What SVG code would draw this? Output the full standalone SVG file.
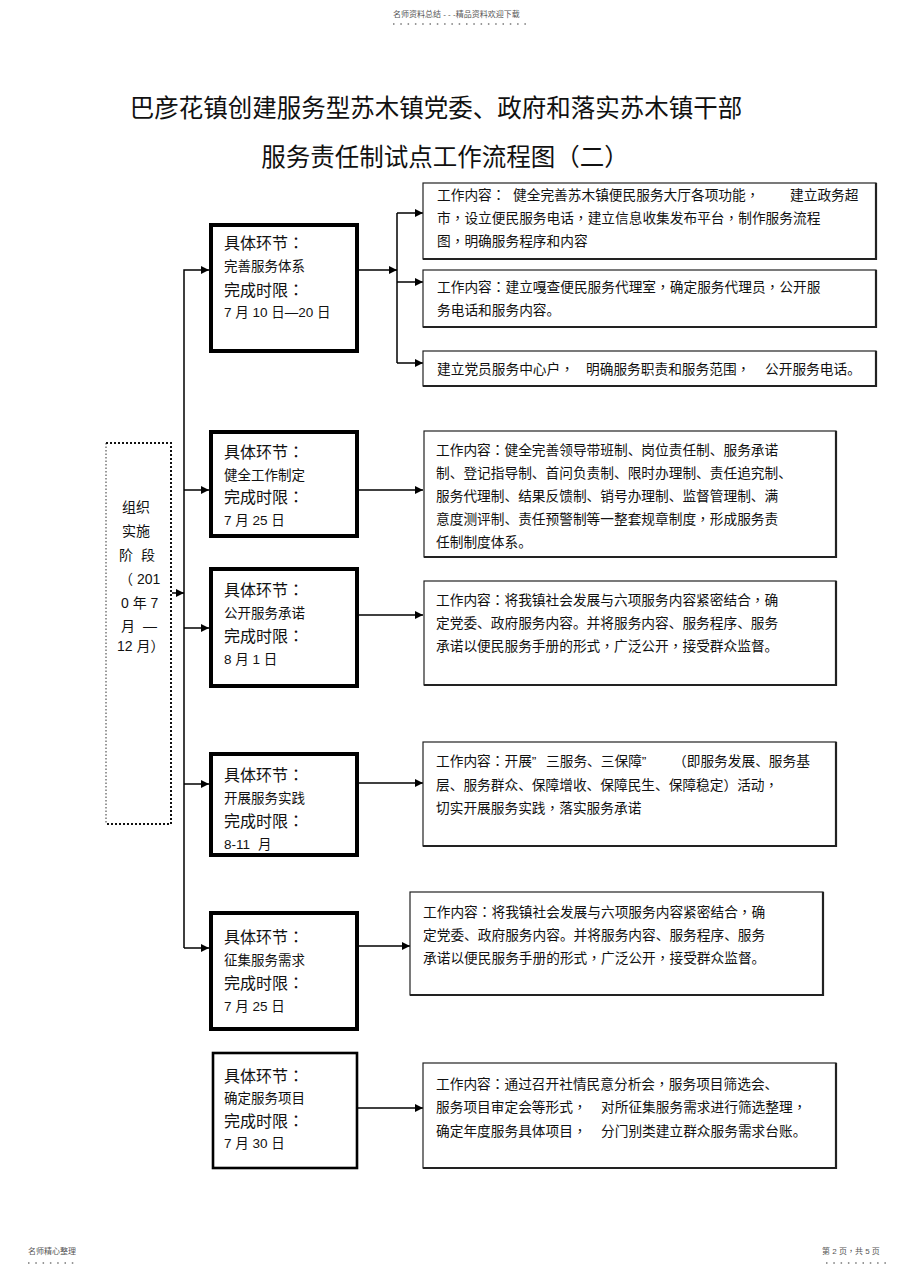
<svg xmlns="http://www.w3.org/2000/svg" width="920" height="1274" viewBox="0 0 920 1274">
<style>
text{font-family:"Liberation Sans","Noto Sans CJK SC",sans-serif;fill:#111}
.c{font-family:"Noto Sans CJK TC",sans-serif}
.title{font-size:24.5px}
.hd{font-size:8px;fill:#555}
.dots{stroke:#777;stroke-width:1.3;stroke-dasharray:1.5 5.8;fill:none}
.node{fill:#fff;stroke:#000;stroke-width:4}
.node6{fill:#fff;stroke:#000;stroke-width:2.6}
.big{font-size:16px}
.sm{font-size:13.5px}
.box{fill:#fff;stroke:#222;stroke-width:1.2}
.shd{fill:none;stroke:#222;stroke-width:2.2}
.ct{font-size:13.7px}
.conn{stroke:#000;stroke-width:1.5;fill:none}
.side{font-size:14px}
</style>
<defs>
<marker id="ah" markerUnits="userSpaceOnUse" markerWidth="9" markerHeight="8" refX="8" refY="4" orient="auto">
<path d="M0,0 L8,4 L0,8 Z" fill="#000"/>
</marker>
</defs>

<g id="header">
<text class="hd" x="393" y="17">名师资料总结 - - -精品资料欢迎下载</text>
<line class="dots" x1="393" y1="24" x2="527" y2="24"/>
</g>

<g id="title">
<text class="title" x="436" y="117" text-anchor="middle">巴彦花镇创建服务型苏木镇党委、政府和落实苏木镇干部</text>
<text class="title" x="445" y="166" text-anchor="middle">服务责任制试点工作流程图（二）</text>
</g>

<g id="connectors">
<polyline class="conn" points="184,948 184,270 209,270" marker-end="url(#ah)"/>
<line class="conn" x1="184" y1="490" x2="209" y2="490" marker-end="url(#ah)"/>
<line class="conn" x1="184" y1="628" x2="209" y2="628" marker-end="url(#ah)"/>
<line class="conn" x1="184" y1="784" x2="209" y2="784" marker-end="url(#ah)"/>
<line class="conn" x1="184" y1="948" x2="209" y2="948" marker-end="url(#ah)"/>
<line class="conn" x1="172" y1="593" x2="184" y2="593" marker-end="url(#ah)"/>
<line class="conn" x1="357" y1="270" x2="397" y2="270" marker-end="url(#ah)"/>
<line class="conn" x1="397" y1="213" x2="397" y2="363"/>
<line class="conn" x1="397" y1="213" x2="423" y2="213" marker-end="url(#ah)"/>
<line class="conn" x1="397" y1="282" x2="423" y2="282" marker-end="url(#ah)"/>
<line class="conn" x1="397" y1="363" x2="423" y2="363" marker-end="url(#ah)"/>
<line class="conn" x1="357" y1="490" x2="423" y2="490" marker-end="url(#ah)"/>
<line class="conn" x1="357" y1="615" x2="423" y2="615" marker-end="url(#ah)"/>
<line class="conn" x1="357" y1="783" x2="423" y2="783" marker-end="url(#ah)"/>
<line class="conn" x1="357" y1="946" x2="410" y2="946" marker-end="url(#ah)"/>
<line class="conn" x1="357" y1="1108" x2="423" y2="1108" marker-end="url(#ah)"/>
</g>

<g id="phase">
<line x1="106" y1="443" x2="106" y2="824" stroke="#333" stroke-width="1" stroke-dasharray="1.5 2"/>
<polyline points="106,443 171,443 171,824 106,824" fill="none" stroke="#111" stroke-width="2" stroke-dasharray="2 2"/>
<text class="side" x="122" y="512">组织</text>
<text class="side" x="122" y="536">实施</text>
<text class="side" x="119" y="560">阶<tspan x="141">段</tspan></text>
<text class="side" x="119" y="584"><tspan class="c">（</tspan> 201</text>
<text class="side" x="121" y="608">0 年 7</text>
<text class="side" x="121" y="631">月<tspan x="143">—</tspan></text>
<text class="side" x="117" y="651">12 月<tspan class="c">）</tspan></text>
</g>

<g id="node1">
<rect class="node" x="211" y="225" width="146" height="126"/>
<text class="big" x="224" y="249">具体环节<tspan class="c">：</tspan></text>
<text class="sm" x="224" y="271">完善服务体系</text>
<text class="big" x="224" y="296">完成时限<tspan class="c">：</tspan></text>
<text class="sm" x="224" y="317">7 月 10 日—20 日</text>
</g>

<g id="content1a">
<rect class="box" x="423" y="183" width="453" height="76"/>
<polyline class="shd" points="876,183 876,259 423,259"/>
<text class="ct" x="437" y="200">工作内容<tspan class="c">：</tspan><tspan x="513">健全完善苏木镇便民服务大厅各项功能</tspan><tspan class="c">，</tspan><tspan x="790">建立政务超</tspan></text>
<text class="ct" x="437" y="223">市<tspan class="c">，</tspan>设立便民服务电话<tspan class="c">，</tspan>建立信息收集发布平台<tspan class="c">，</tspan>制作服务流程</text>
<text class="ct" x="437" y="246">图<tspan class="c">，</tspan>明确服务程序和内容</text>
</g>

<g id="content1b">
<rect class="box" x="423" y="270" width="453" height="57"/>
<polyline class="shd" points="876,270 876,327 423,327"/>
<text class="ct" x="437" y="292">工作内容<tspan class="c">：</tspan>建立嘎查便民服务代理室<tspan class="c">，</tspan>确定服务代理员<tspan class="c">，</tspan>公开服</text>
<text class="ct" x="437" y="315">务电话和服务内容。</text>
</g>

<g id="content1c">
<rect class="box" x="423" y="351" width="453" height="35"/>
<polyline class="shd" points="876,351 876,386 423,386"/>
<text class="ct" x="437" y="374">建立党员服务中心户<tspan class="c">，</tspan><tspan x="586">明确服务职责和服务范围</tspan><tspan class="c">，</tspan><tspan x="765">公开服务电话。</tspan></text>
</g>

<g id="node2">
<rect class="node" x="211" y="432" width="146" height="104"/>
<text class="big" x="224" y="458">具体环节<tspan class="c">：</tspan></text>
<text class="sm" x="224" y="480">健全工作制定</text>
<text class="big" x="224" y="503">完成时限<tspan class="c">：</tspan></text>
<text class="sm" x="224" y="525">7 月 25 日</text>
</g>

<g id="content2">
<rect class="box" x="424" y="431" width="412" height="126"/>
<polyline class="shd" points="836,431 836,557 424,557"/>
<text class="ct" x="436" y="455">工作内容<tspan class="c">：</tspan>健全完善领导带班制、岗位责任制、服务承诺</text>
<text class="ct" x="436" y="478">制、登记指导制、首问负责制、限时办理制、责任追究制、</text>
<text class="ct" x="436" y="501">服务代理制、结果反馈制、销号办理制、监督管理制、满</text>
<text class="ct" x="436" y="524">意度测评制、责任预警制等一整套规章制度<tspan class="c">，</tspan>形成服务责</text>
<text class="ct" x="436" y="547">任制制度体系。</text>
</g>

<g id="node3">
<rect class="node" x="211" y="569" width="146" height="117"/>
<text class="big" x="224" y="596">具体环节<tspan class="c">：</tspan></text>
<text class="sm" x="224" y="618">公开服务承诺</text>
<text class="big" x="224" y="642">完成时限<tspan class="c">：</tspan></text>
<text class="sm" x="224" y="664">8 月 1 日</text>
</g>

<g id="content3">
<rect class="box" x="424" y="581" width="412" height="104"/>
<polyline class="shd" points="836,581 836,685 424,685"/>
<text class="ct" x="436" y="605">工作内容<tspan class="c">：</tspan>将我镇社会发展与六项服务内容紧密结合<tspan class="c">，</tspan>确</text>
<text class="ct" x="436" y="628">定党委、政府服务内容。并将服务内容、服务程序、服务</text>
<text class="ct" x="436" y="651">承诺以便民服务手册的形式<tspan class="c">，</tspan>广泛公开<tspan class="c">，</tspan>接受群众监督。</text>
</g>

<g id="node4">
<rect class="node" x="211" y="754" width="146" height="101"/>
<text class="big" x="224" y="781">具体环节<tspan class="c">：</tspan></text>
<text class="sm" x="224" y="803">开展服务实践</text>
<text class="big" x="224" y="827">完成时限<tspan class="c">：</tspan></text>
<text class="sm" x="224" y="849">8-11<tspan x="258">月</tspan></text>
</g>

<g id="content4">
<rect class="box" x="423" y="742" width="413" height="104"/>
<polyline class="shd" points="836,742 836,846 423,846"/>
<text class="ct" x="436" y="766">工作内容<tspan class="c">：</tspan>开展”<tspan x="546">三服务、三保障”</tspan><tspan x="673" class="c">（</tspan>即服务发展、服务基</text>
<text class="ct" x="436" y="790">层、服务群众、保障增收、保障民生、保障稳定<tspan class="c">）</tspan>活动<tspan class="c">，</tspan></text>
<text class="ct" x="436" y="813">切实开展服务实践<tspan class="c">，</tspan>落实服务承诺</text>
</g>

<g id="node5">
<rect class="node" x="211" y="913" width="146" height="116"/>
<text class="big" x="224" y="943">具体环节<tspan class="c">：</tspan></text>
<text class="sm" x="224" y="965">征集服务需求</text>
<text class="big" x="224" y="989">完成时限<tspan class="c">：</tspan></text>
<text class="sm" x="224" y="1011">7 月 25 日</text>
</g>

<g id="content5">
<rect class="box" x="410" y="892" width="413" height="103"/>
<polyline class="shd" points="823,892 823,995 410,995"/>
<text class="ct" x="423" y="917">工作内容<tspan class="c">：</tspan>将我镇社会发展与六项服务内容紧密结合<tspan class="c">，</tspan>确</text>
<text class="ct" x="423" y="940">定党委、政府服务内容。并将服务内容、服务程序、服务</text>
<text class="ct" x="423" y="963">承诺以便民服务手册的形式<tspan class="c">，</tspan>广泛公开<tspan class="c">，</tspan>接受群众监督。</text>
</g>

<g id="node6">
<rect class="node6" x="213" y="1053" width="144" height="115"/>
<text class="big" x="224" y="1082">具体环节<tspan class="c">：</tspan></text>
<text class="sm" x="224" y="1103">确定服务项目</text>
<text class="big" x="224" y="1127">完成时限<tspan class="c">：</tspan></text>
<text class="sm" x="224" y="1148">7 月 30 日</text>
</g>

<g id="content6">
<rect class="box" x="423" y="1063" width="413" height="105"/>
<polyline class="shd" points="836,1063 836,1168 423,1168"/>
<text class="ct" x="436" y="1089">工作内容<tspan class="c">：</tspan>通过召开社情民意分析会<tspan class="c">，</tspan>服务项目筛选会、</text>
<text class="ct" x="436" y="1112">服务项目审定会等形式<tspan class="c">，</tspan><tspan x="601">对所征集服务需求进行筛选整理</tspan><tspan class="c">，</tspan></text>
<text class="ct" x="436" y="1136">确定年度服务具体项目<tspan class="c">，</tspan><tspan x="601">分门别类建立群众服务需求台账。</tspan></text>
</g>

<g id="footer">
<text class="hd" x="28" y="1254">名师精心整理</text>
<line class="dots" x1="28" y1="1263" x2="74" y2="1263"/>
<text class="hd" x="822" y="1254">第 2 页<tspan class="c">，</tspan>共 5 页</text>
<line class="dots" x1="826" y1="1263" x2="888" y2="1263"/>
</g>
</svg>
